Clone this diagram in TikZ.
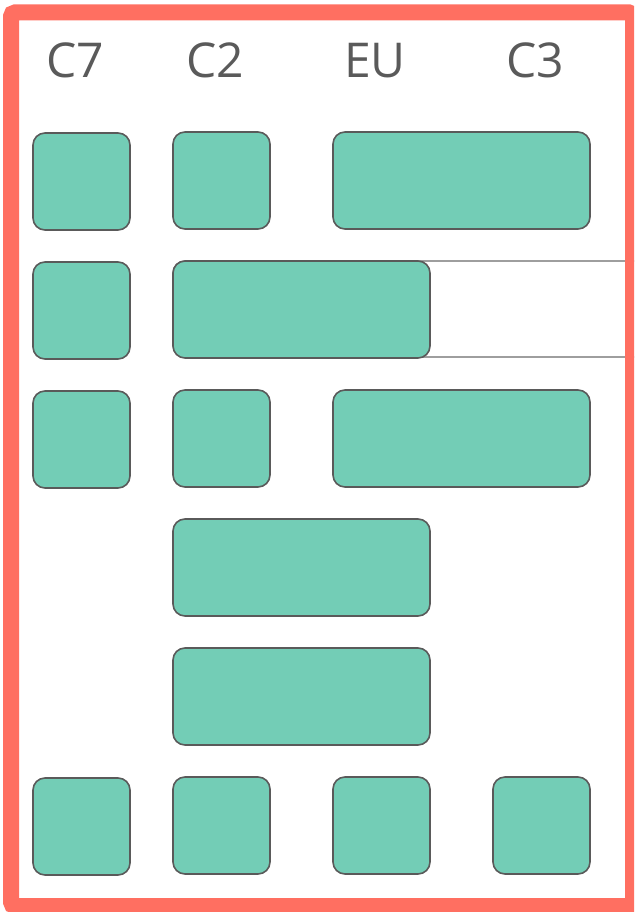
\documentclass[tikz,border=0pt]{standalone}
\usepackage{fontspec}
\setsansfont{Open Sans}
\usetikzlibrary{positioning}
\definecolor{frameRed}{HTML}{FF6F61}
\definecolor{tileGreen}{HTML}{73CDB6}
\definecolor{edgeGray}{HTML}{5A5A5A}

\begin{document}
\begin{tikzpicture}[x=1pt,y=-1pt,
  tile/.style={draw=edgeGray,fill=tileGreen,line width=1.6pt,rounded corners=12pt,
    minimum height=97pt,inner sep=0pt,outer sep=0pt,anchor=north west},
  sq/.style={tile,minimum width=97pt},
  wide/.style={tile,minimum width=257pt},
  band/.style={draw=edgeGray!90,line width=1.4pt,rounded corners=12pt,minimum width=480pt,
    minimum height=96pt,inner sep=0pt,outer sep=0pt,anchor=north west},
  head/.style={text=edgeGray,font=\sffamily\fontsize{48}{48}\selectfont,anchor=base}
]
\clip (0,0) rectangle (634,912);
\fill[white] (0,0) rectangle (634,912);
% column heads
\node[head] (c7) at (75,78) {C7};
\node[head] (c2) at (215,78) {C2};
\node[head] (eu) at (375,78) {EU};
\node[head] (c3) at (535,78) {C3};
% row 1
\node[sq] (r1a) at (33,133) {};
\node[sq] (r1b) at (173,132) {};
\node[wide] (r1c) at (333,132) {};
% row 2
\node[band] (lane) at (173,261) {};
\node[sq] (r2a) at (33,262) {};
\node[wide] (r2b) at (173,261) {};
% row 3
\node[sq] (r3a) at (33,391) {};
\node[sq] (r3b) at (173,390) {};
\node[wide] (r3c) at (333,390) {};
% rows 4 and 5
\node[wide] (r4b) at (173,519) {};
\node[wide] (r5b) at (173,648) {};
% row 6
\node[sq] (r6a) at (33,778) {};
\node[sq] (r6b) at (173,777) {};
\node[sq] (r6c) at (333,777) {};
\node[sq] (r6d) at (493,777) {};
% frame
\draw[frameRed,line width=16pt,rounded corners=4pt] (11,12.5) rectangle (633,906);
\end{tikzpicture}
\end{document}
